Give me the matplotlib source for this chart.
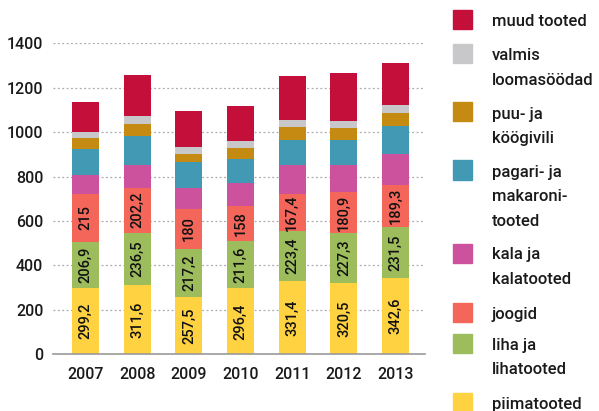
import numpy as np
import matplotlib.pyplot as plt
from matplotlib.patches import Rectangle

plt.rcParams['font.family'] = ['Roboto', 'DejaVu Sans']

years = ['2007', '2008', '2009', '2010', '2011', '2012', '2013']

piimatooted = [299.2, 311.6, 257.5, 296.4, 331.4, 320.5, 342.6]
liha = [206.9, 236.5, 217.2, 211.6, 223.4, 227.3, 231.5]
joogid = [215, 202.2, 180, 158, 167.4, 180.9, 189.3]
kala = [86, 102, 95, 105, 130, 123, 139]
pagari = [117, 132, 117, 108, 114, 114, 127]
puu = [51, 53, 35, 50, 57, 54, 58]
valmis = [26, 36, 31, 31, 32, 30, 35]
muud = [135, 185, 162, 158, 198, 217, 190]

series = [piimatooted, liha, joogid, kala, pagari, puu, valmis, muud]
colors = ['#FFD242', '#9DBD5D', '#F4665A', '#CC529D', '#4299B3', '#C48A12', '#C8C8CA', '#C30F3A']
labels = ['piimatooted', 'liha ja\nlihatooted', 'joogid', 'kala ja\nkalatooted',
          'pagari- ja\nmakaroni-\ntooted', 'puu- ja\nköögivili', 'valmis\nloomasöödad', 'muud tooted']
labelled = 3  # first three series get value labels

fig = plt.figure(figsize=(5.99, 4.11), dpi=100)
ax = fig.add_axes([53 / 599, 1 - 354.3 / 411, 372 / 599, 311 / 411])

x = np.arange(len(years))
bottom = np.zeros(len(years))
for i, (vals, c) in enumerate(zip(series, colors)):
    vals = np.array(vals, dtype=float)
    ax.bar(x, vals, 0.52, bottom=bottom, color=c, zorder=2)
    if i < labelled:
        for xi, b, v in zip(x, bottom, vals):
            txt = ('%g' % v).replace('.', ',')
            ax.text(xi, b + v / 2, txt, rotation=90, ha='center', va='center',
                    fontsize=10.5, color='#111111', fontweight='medium', zorder=3)
    bottom += vals

ax.set_xlim(-0.63, 6.57)
ax.set_ylim(0, 1400)
ax.set_yticks(range(0, 1401, 200))
ax.set_xticks(x)
ax.set_xticklabels(years)
ax.tick_params(axis='both', length=0, labelsize=11.5, colors='#1a1a1a')
ax.tick_params(axis='y', pad=7)
ax.tick_params(axis='x', pad=9)
for t in ax.get_xticklabels() + ax.get_yticklabels():
    t.set_fontweight('medium')
for s in ['top', 'right', 'left']:
    ax.spines[s].set_visible(False)
ax.spines['bottom'].set_color('#999999')
ax.spines['bottom'].set_linewidth(1.2)
for v in range(200, 1401, 200):
    ax.axhline(v, color='#aaaaaa', linestyle=(0, (1.5, 2)), linewidth=0.9, zorder=1)

# legend drawn by hand, top entry first
leg_y = [20, 54, 112, 170, 253, 312, 343, 402]
line_gap = 24.5
for yy, c, lab in zip(leg_y, colors[::-1], labels[::-1]):
    fig.add_artist(Rectangle((453 / 599, 1 - (yy + 9.5) / 411), 19 / 599, 19 / 411,
                             transform=fig.transFigure, color=c))
    for k, line in enumerate(lab.split('\n')):
        base = yy + k * line_gap + 6.5
        fig.text(492 / 599, 1 - base / 411, line, ha='left', va='baseline', fontsize=12,
                 color='#1a1a1a', fontweight='medium')

fig.savefig('out.png', dpi=100)
